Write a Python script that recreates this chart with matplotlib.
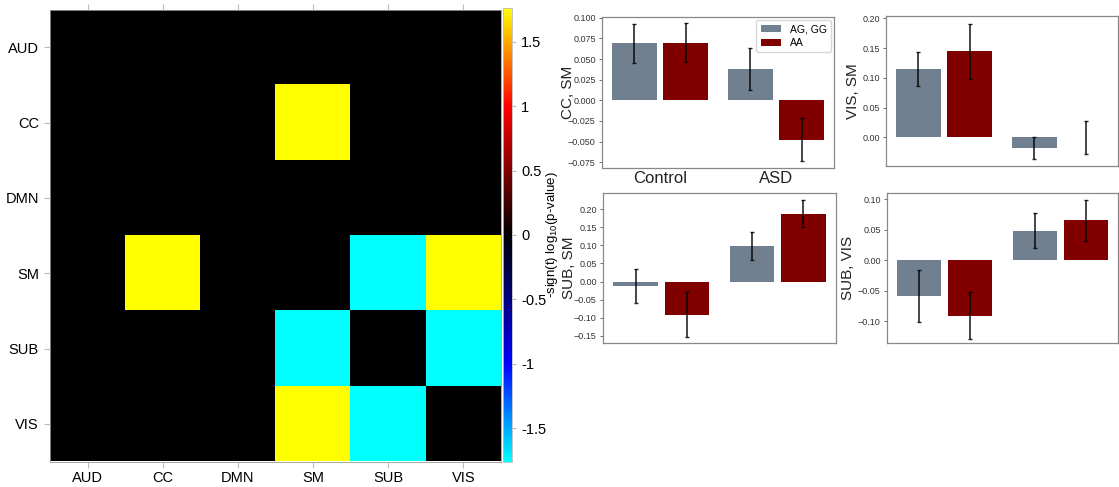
import numpy as np
import matplotlib
matplotlib.use('Agg')
import matplotlib.pyplot as plt
from matplotlib.colors import LinearSegmentedColormap

plt.rcParams['font.family'] = ['Liberation Sans', 'DejaVu Sans']
plt.rcParams['mathtext.fontset'] = 'custom'
plt.rcParams['mathtext.rm'] = 'Liberation Sans'
plt.rcParams['mathtext.it'] = 'Liberation Sans:italic'

networks = ['AUD', 'CC', 'DMN', 'SM', 'SUB', 'VIS']
hi = 1.76
lo = -1.76
# -sign(t) log10(p) between networks
pmat = np.array([
    [0, 0, 0, 0, 0, 0],
    [0, 0, 0, hi, 0, 0],
    [0, 0, 0, 0, 0, 0],
    [0, hi, 0, 0, lo, hi],
    [0, 0, 0, lo, 0, lo],
    [0, 0, 0, hi, lo, 0],
])
cbar_ticks = [-1.5, -1, -0.5, 0, 0.5, 1, 1.5]
cbar_ticklabels = ['-1.5', '-1', '-0.5', '0', '0.5', '1', '1.5']

groups = ['Control', 'ASD']
hue_labels = ['AG, GG', 'AA']
cc_sm_mean = [[0.069, 0.038], [0.070, -0.048]]
cc_sm_err = [[0.024, 0.025], [0.024, 0.026]]
vis_sm_mean = [[0.115, -0.018], [0.145, 0.0]]
vis_sm_err = [[0.028, 0.019], [0.046, 0.027]]
sub_sm_mean = [[-0.012, 0.098], [-0.092, 0.188]]
sub_sm_err = [[0.046, 0.038], [0.062, 0.0375]]
sub_vis_mean = [[-0.059, 0.048], [-0.091, 0.065]]
sub_vis_err = [[0.042, 0.029], [0.038, 0.034]]

cols = ['#708090', '#800000']

fig = plt.figure(figsize=(11.19, 4.87), dpi=100)

# heatmap
cmap = LinearSegmentedColormap.from_list('cyanblackyellow', [
    (0.0, (0, 1, 1)), (0.216, (0, 0, 1)), (0.5, (0, 0, 0)),
    (0.784, (1, 0, 0)), (1.0, (1, 1, 0))])
ax = fig.add_axes([50/1119, 1-461.5/487, 451/1119, 452/487])
im = ax.imshow(pmat, cmap=cmap, vmin=lo, vmax=hi, aspect='auto', interpolation='nearest')
ax.set_xticks(range(len(networks)))
ax.set_xticklabels(networks, fontsize=10.5)
ax.set_yticks(range(len(networks)))
ax.set_yticklabels(networks, fontsize=10.5)
ax.tick_params(top=True, direction='out', length=4, color='#bbbbbb', width=0.8)
ax.tick_params(axis='x', pad=3)
ax.tick_params(axis='y', pad=4)
for s in ax.spines.values():
    s.set_color('#999999')
    s.set_linewidth(0.6)

cax = fig.add_axes([503/1119, 1-462/487, 9/1119, 454/487])
cb = fig.colorbar(im, cax=cax, ticks=cbar_ticks)
cb.ax.set_yticklabels(cbar_ticklabels, fontsize=10.5)
cb.ax.tick_params(length=3, color='#bbbbbb', width=0.8)
cb.outline.set_edgecolor('#bbbbbb')
cb.outline.set_linewidth(0.6)
cb.set_label('-sign(t) log$_{10}$(p-value)', fontsize=9.5, labelpad=-2)

# bar panels
offs = [-0.22, 0.22]
bw = 0.38
panels = [
    ([602/1119, 1-168/487, 232/1119, 151/487], cc_sm_mean, cc_sm_err, 'CC, SM', -0.115,
     (-0.082, 0.101), np.arange(-0.075, 0.1001, 0.025), '{:.3f}'),
    ([886/1119, 1-166/487, 232/1119, 150/487], vis_sm_mean, vis_sm_err, 'VIS, SM', -0.112,
     (-0.048, 0.204), np.arange(0, 0.2001, 0.05), '{:.2f}'),
    ([603/1119, 1-343/487, 233/1119, 150/487], sub_sm_mean, sub_sm_err, 'SUB, SM', -0.115,
     (-0.170, 0.245), np.arange(-0.15, 0.2001, 0.05), '{:.2f}'),
    ([887/1119, 1-343/487, 231/1119, 150/487], sub_vis_mean, sub_vis_err, 'SUB, VIS', -0.139,
     (-0.136, 0.11), np.arange(-0.10, 0.1001, 0.05), '{:.2f}'),
]
x = np.arange(len(groups))
for i, (pos, means, errs, ylab, ylx, ylim, yt, fmt) in enumerate(panels):
    bx = fig.add_axes(pos)
    for h in range(2):
        bx.bar(x + offs[h], means[h], width=bw, color=cols[h], edgecolor='none',
               label=hue_labels[h])
        bx.errorbar(x + offs[h], means[h], yerr=errs[h], fmt='none', ecolor='black',
                    elinewidth=1.2, capsize=1.5, capthick=1, alpha=0.85)
    bx.set_xlim(-0.5, 1.5)
    bx.set_ylim(*ylim)
    bx.set_yticks(yt)
    bx.set_yticklabels([fmt.format(v).replace('-', '\u2212') if abs(v) > 1e-9 else fmt.format(0) for v in yt],
                       fontsize=6.5, color='#333333')
    bx.tick_params(axis='y', length=2.5, width=0.6, color='#555555', pad=2)
    bx.set_ylabel(ylab, fontsize=11, color='#222222')
    bx.yaxis.set_label_coords(ylx, 0.5)
    for s in bx.spines.values():
        s.set_color('#888888')
        s.set_linewidth(0.9)
    if i == 0:
        bx.set_xticks(x)
        bx.set_xticklabels(groups, fontsize=12, color='#222222')
        bx.tick_params(axis='x', length=0, pad=2)
        bx.legend(loc='upper right', fontsize=7.5, frameon=True, handlelength=2.0,
                  borderpad=0.4, labelspacing=0.35, borderaxespad=0.3)
    else:
        bx.set_xticks([])

fig.savefig('out.png', dpi=100)
